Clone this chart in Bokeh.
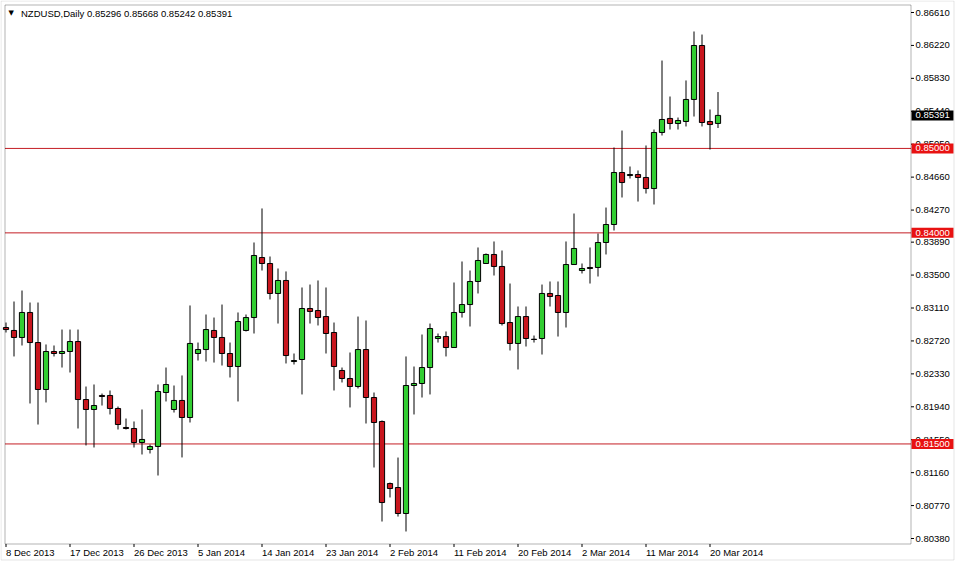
from bokeh.plotting import figure
from bokeh.models import Range1d, BoxAnnotation, ColumnDataSource
from bokeh.core.properties import value
from bokeh.embed import file_html
from bokeh.resources import INLINE

# ---------------- data ----------------
symbol = "NZDUSD,Daily"
header_ohlc = [0.85296, 0.85668, 0.85242, 0.85391]

open_ = [
    0.82879, 0.82844, 0.82761, 0.83057, 0.82701, 0.82145, 0.82595, 0.82571, 0.82595, 0.82713,
    0.82026, 0.81908, 0.82074, 0.82074, 0.81920, 0.81695, 0.81683, 0.81517, 0.81434, 0.81470,
    0.82109, 0.81908, 0.82015, 0.81813, 0.82571, 0.82618, 0.82844, 0.82761, 0.82571, 0.82417,
    0.82844, 0.82997, 0.83708, 0.83637, 0.83282, 0.83436, 0.82476, 0.82500, 0.83104, 0.83080,
    0.83009, 0.82820, 0.82370, 0.82275, 0.82180, 0.82618, 0.82050, 0.81766, 0.81031, 0.80984,
    0.80676, 0.82192, 0.82216, 0.82405, 0.82749, 0.82772, 0.82642, 0.83057, 0.83151, 0.83424,
    0.83637, 0.83744, 0.83602, 0.82938, 0.82690, 0.83009, 0.82740, 0.82749, 0.83282, 0.83258,
    0.83057, 0.83625, 0.83554, 0.83590, 0.83590, 0.83886, 0.84099, 0.84715, 0.84679, 0.84691,
    0.84656, 0.84525, 0.85189, 0.85355, 0.85295, 0.85319, 0.85580, 0.86219, 0.85319, 0.85296,
]
high = [
    0.82938, 0.83187, 0.83317, 0.83175, 0.83175, 0.82678, 0.82666, 0.82855, 0.82855, 0.82855,
    0.82180, 0.82204, 0.82097, 0.82133, 0.81943, 0.81801, 0.81766, 0.81908, 0.81493, 0.82204,
    0.82405, 0.82192, 0.82311, 0.83140, 0.82701, 0.83033, 0.82997, 0.83151, 0.82701, 0.83057,
    0.83033, 0.83886, 0.84289, 0.83720, 0.83578, 0.83543, 0.82571, 0.83353, 0.83388, 0.83436,
    0.83353, 0.82938, 0.82405, 0.82583, 0.83009, 0.82962, 0.82109, 0.81778, 0.81043, 0.81339,
    0.82536, 0.82417, 0.82796, 0.82926, 0.82808, 0.82832, 0.83412, 0.83661, 0.83554, 0.83827,
    0.83756, 0.83898, 0.83791, 0.83400, 0.83128, 0.83128, 0.82784, 0.83388, 0.83424, 0.83424,
    0.83898, 0.84229, 0.83637, 0.83827, 0.83992, 0.84300, 0.85011, 0.85212, 0.84786, 0.84739,
    0.85035, 0.85224, 0.86041, 0.85615, 0.85366, 0.85805, 0.86385, 0.86349, 0.85461, 0.85668,
]
low = [
    0.82820, 0.82536, 0.82666, 0.81979, 0.81730, 0.81991, 0.82536, 0.82405, 0.82346, 0.81683,
    0.81482, 0.81458, 0.81955, 0.81849, 0.81671, 0.81671, 0.81458, 0.81375, 0.81387, 0.81126,
    0.82003, 0.81872, 0.81340, 0.81754, 0.82488, 0.82476, 0.82464, 0.82429, 0.82287, 0.82003,
    0.82832, 0.82808, 0.83554, 0.83211, 0.82926, 0.82453, 0.82441, 0.82086, 0.82926, 0.82903,
    0.82571, 0.82133, 0.82228, 0.81932, 0.82157, 0.81742, 0.81221, 0.80581, 0.80866, 0.80640,
    0.80463, 0.81849, 0.82050, 0.82086, 0.82701, 0.82536, 0.82642, 0.82997, 0.82891, 0.83282,
    0.83637, 0.83495, 0.82903, 0.82607, 0.82382, 0.82654, 0.82701, 0.82559, 0.83128, 0.82772,
    0.82879, 0.83625, 0.83519, 0.83400, 0.83483, 0.83744, 0.84028, 0.84419, 0.84644, 0.84371,
    0.84466, 0.84336, 0.85153, 0.85224, 0.85224, 0.85260, 0.85378, 0.85260, 0.84987, 0.85242,
]
close = [
    0.82855, 0.82761, 0.83057, 0.82701, 0.82145, 0.82595, 0.82571, 0.82595, 0.82713, 0.82026,
    0.81908, 0.81955, 0.82062, 0.81920, 0.81730, 0.81683, 0.81517, 0.81553, 0.81470, 0.82121,
    0.82204, 0.82015, 0.81813, 0.82690, 0.82618, 0.82855, 0.82761, 0.82571, 0.82417, 0.82950,
    0.82997, 0.83732, 0.83637, 0.83282, 0.83436, 0.82547, 0.82488, 0.83104, 0.83069, 0.82997,
    0.82808, 0.82417, 0.82275, 0.82180, 0.82618, 0.82050, 0.81754, 0.80806, 0.80972, 0.80676,
    0.82192, 0.82216, 0.82405, 0.82867, 0.82772, 0.82642, 0.83057, 0.83151, 0.83424, 0.83673,
    0.83744, 0.83602, 0.82926, 0.82690, 0.83009, 0.82749, 0.82737, 0.83282, 0.83246, 0.83057,
    0.83625, 0.83815, 0.83578, 0.83578, 0.83886, 0.84099, 0.84715, 0.84596, 0.84691, 0.84656,
    0.84525, 0.85189, 0.85343, 0.85295, 0.85331, 0.85580, 0.86219, 0.85307, 0.85283, 0.85391,
]

date_labels = ["8 Dec 2013", "17 Dec 2013", "26 Dec 2013", "5 Jan 2014", "14 Jan 2014",
               "23 Jan 2014", "2 Feb 2014", "11 Feb 2014", "20 Feb 2014", "2 Mar 2014",
               "11 Mar 2014", "20 Mar 2014"]
price_ticks = [0.86610, 0.86220, 0.85830, 0.85440, 0.85050, 0.84660, 0.84270, 0.83890,
               0.83500, 0.83110, 0.82720, 0.82330, 0.81940, 0.81550, 0.81160, 0.80770, 0.80380]
levels = [0.85000, 0.84000, 0.81500]
last_price = 0.85391

# ---------------- style / layout (MT4 look) ----------------
BULL = "#32CD32"
BEAR = "#C8161E"
LEVEL_LINE = "#C41E24"
TAG_RED = "#E81212"
FONT = "Liberation Sans"
FS = "9.5px"
BARS_PER_LABEL = 8
W, H = 955, 563

# pixel <-> data helpers (8 px per daily bar; price scale of the MT4 window)
BAR_PX = 8.0
BAR0_PX = 5.5
PX_PER_PRICE = 526.0 / (price_ticks[0] - price_ticks[-1])
TOP_TICK_PX = 12.0


def kx(px):
    return (px - BAR0_PX) / BAR_PX


def vy(py):
    return price_ticks[0] - (py - TOP_TICK_PX) / PX_PER_PRICE


FRAME_L, FRAME_R, FRAME_T, FRAME_B = 4.5, 910.5, 4.5, 543.5

n = len(open_)
src = ColumnDataSource(dict(
    x=list(range(n)), open=open_, high=high, low=low, close=close,
    top=[max(o, c) for o, c in zip(open_, close)],
    bottom=[min(o, c) for o, c in zip(open_, close)],
    color=[BULL if c >= o else BEAR for o, c in zip(open_, close)],
))

p = figure(width=W, height=H, output_backend="svg", toolbar_location=None,
           x_range=Range1d(kx(0), kx(W)), y_range=Range1d(vy(H), vy(0)),
           x_axis_location=None, y_axis_location=None,
           min_border=0, min_border_left=0, min_border_right=0,
           min_border_top=0, min_border_bottom=0)
p.grid.visible = False
p.outline_line_color = None
p.background_fill_color = "white"
p.border_fill_color = "white"

# window border and chart frame
p.add_layout(BoxAnnotation(left=kx(0.5), right=kx(953.5), top=vy(0.5), bottom=vy(559.5),
                           fill_color=None, line_color="#A8A8A8", line_width=1))
p.add_layout(BoxAnnotation(left=kx(FRAME_L), right=kx(FRAME_R), top=vy(FRAME_T), bottom=vy(FRAME_B),
                           fill_color=None, line_color="black", line_width=1))

# horizontal levels
p.segment(x0=[kx(FRAME_L)] * len(levels), x1=[kx(FRAME_R)] * len(levels),
          y0=levels, y1=levels, line_color=LEVEL_LINE, line_width=1)

# candles
p.segment(x0="x", y0="low", x1="x", y1="high", line_color="black", line_width=1, source=src)
p.vbar(x="x", width=0.65, top="top", bottom="bottom", fill_color="color",
       line_color="black", line_width=1, source=src)

# right price scale: tick marks + labels
p.segment(x0=[kx(FRAME_R)] * len(price_ticks), x1=[kx(FRAME_R + 3)] * len(price_ticks),
          y0=price_ticks, y1=price_ticks, line_color="black", line_width=1)
p.text(x=[kx(915)] * len(price_ticks), y=price_ticks,
       text=[f"{t:.5f}" for t in price_ticks],
       text_font=value(FONT), text_font_size=value(FS), text_color="black",
       text_align="left", text_baseline="middle")

# bottom time scale: tick marks + left-aligned labels
label_idx = [i * BARS_PER_LABEL for i in range(len(date_labels))]
p.segment(x0=label_idx, x1=label_idx, y0=[vy(FRAME_B)] * len(label_idx),
          y1=[vy(FRAME_B + 3)] * len(label_idx), line_color="black", line_width=1)
p.text(x=label_idx, y=[vy(546)] * len(label_idx), text=date_labels,
       text_font=value(FONT), text_font_size=value(FS), text_color="black",
       text_align="left", text_baseline="top")

# header
p.text(x=[kx(8)], y=[vy(12.5)], text=["\u25BC"], text_font=value("DejaVu Sans"),
       text_font_size=value("7px"), text_color="black",
       text_align="left", text_baseline="middle")
p.text(x=[kx(20.5)], y=[vy(13)],
       text=[symbol + "  " + " ".join(f"{v:.5f}" for v in header_ohlc)],
       text_font=value(FONT), text_font_size=value(FS), text_color="black",
       text_align="left", text_baseline="middle")

# price tags on the scale (levels in red, last price in black)
half = 5.0 / PX_PER_PRICE
tag_vals = levels + [last_price]
tag_cols = [TAG_RED] * len(levels) + ["black"]
p.quad(left=[kx(911)] * len(tag_vals), right=[kx(953)] * len(tag_vals),
       top=[v + half for v in tag_vals], bottom=[v - half for v in tag_vals],
       fill_color=tag_cols, line_color=None)
p.text(x=[kx(915)] * len(tag_vals), y=tag_vals, text=[f"{v:.5f}" for v in tag_vals],
       text_font=value(FONT), text_font_size=value(FS), text_color="white",
       text_align="left", text_baseline="middle")

open("out.html", "w").write(file_html(p, INLINE))
